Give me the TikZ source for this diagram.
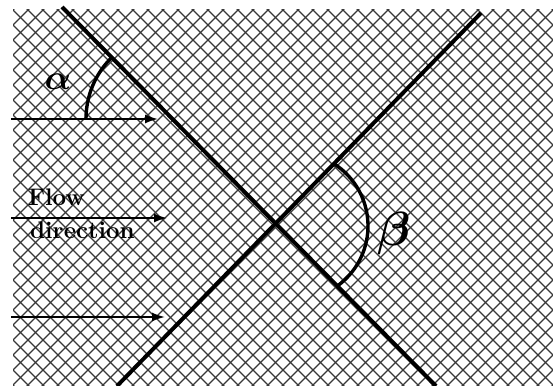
\documentclass[tikz,border=0pt]{standalone}
\usepackage{bm}
\usetikzlibrary{arrows.meta}
\begin{document}
\begin{tikzpicture}[x=1pt,y=-1pt,
  hatch/.style={black!78,line width=1.1pt},
  mainline/.style={line width=4pt},
  flowarrow/.style={line width=1.8pt,-{Latex[length=13pt,width=9pt]}},
  anglearc/.style={line width=3.4pt},
  lbl/.style={font=\bfseries\fontsize{24}{26}\selectfont,inner sep=0pt,anchor=base west}]
\useasboundingbox (0,0) rectangle (553,385);
\fill[white] (0,0) rectangle (553,385);
% cross-hatched background
\begin{scope}
  \clip (13,10) rectangle (553,385);
  \foreach \i in {-28,...,65} {
    \draw[hatch] ({3+15*\i-20},-20) -- ({3+15*\i+420},420);
    \draw[hatch] ({23+15*\i+20},-20) -- ({23+15*\i-420},420);
  }
\end{scope}
% the two lines
\coordinate (a1) at (62,7);
\coordinate (a2) at (436,386);
\coordinate (b1) at (481,13);
\coordinate (b2) at (117,386);
\draw[mainline] (a1) -- (a2);
\draw[mainline] (b1) -- (b2);
% flow arrows
\coordinate (s1) at (11,119); \coordinate (t1) at (158,119);
\coordinate (s2) at (11,218); \coordinate (t2) at (167,218);
\coordinate (s3) at (11,317); \coordinate (t3) at (165,317);
\draw[flowarrow] (s1) -- (t1);
\draw[flowarrow] (s2) -- (t2);
\draw[flowarrow] (s3) -- (t3);
% angle arcs
\coordinate (ca) at (172.5,119);
\draw[anglearc] ([shift={(180:86.5)}]ca) arc[start angle=180,end angle=225.4,radius=86.5];
\coordinate (cb) at (294,226);
\draw[anglearc] ([shift={(-58:74)}]cb) arc[start angle=-58,end angle=54,radius=74];
% labels
\node[scale=3.5] (alpha) at (58,82) {$\bm{\alpha}$};
\node[scale=4.8] (beta) at (394,233) {$\bm{\beta}$};
\node[lbl] (flow) at (28,205) {Flow};
\node[lbl] (dir) at (30,238) {direction};
\end{tikzpicture}
\end{document}
